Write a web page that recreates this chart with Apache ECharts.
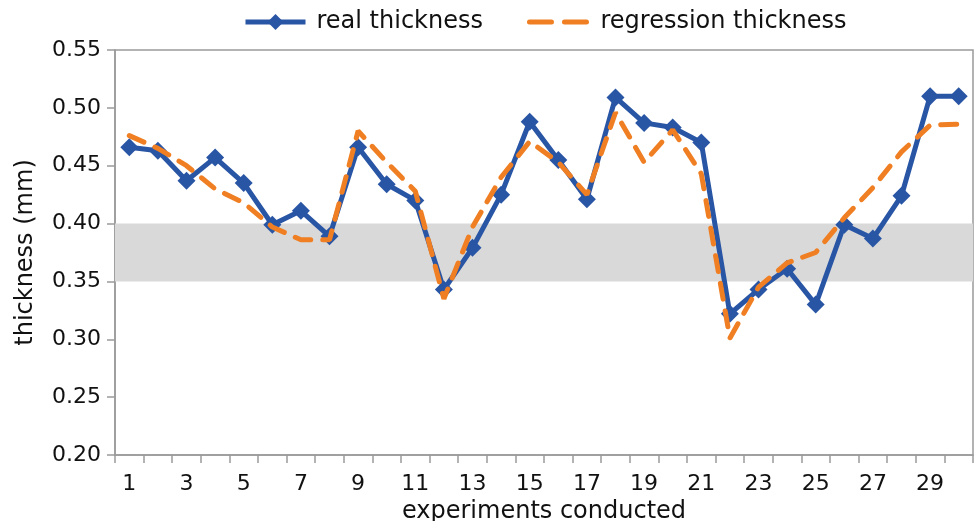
<!DOCTYPE html>
<html>
<head>
<meta charset="utf-8">
<script src="https://cdn.jsdelivr.net/npm/echarts@6/dist/echarts.min.js"></script>
<style>
  html, body { margin: 0; padding: 0; background: #fff; }
  #main { width: 974px; height: 521px; }
</style>
</head>
<body>
<div id="main"></div>
<script>
// experiment numbers 1..30
const experiments = ["1","2","3","4","5","6","7","8","9","10",
    "11","12","13","14","15","16","17","18","19","20",
    "21","22","23","24","25","26","27","28","29","30"]

// measured thickness (mm)
const realThickness = [
    0.466, 0.463, 0.437, 0.457, 0.435, 0.399, 0.411, 0.389, 0.466, 0.434,
    0.420, 0.343, 0.379, 0.425, 0.488, 0.455, 0.421, 0.509, 0.487, 0.483,
    0.470, 0.322, 0.343, 0.361, 0.330, 0.399, 0.387, 0.424, 0.510, 0.510
]

// regression model thickness (mm)
const regressionThickness = [
    0.476, 0.465, 0.450, 0.430, 0.418, 0.397, 0.386, 0.386, 0.480, 0.453,
    0.428, 0.335, 0.397, 0.440, 0.471, 0.453, 0.425, 0.496, 0.453, 0.481,
    0.443, 0.301, 0.345, 0.366, 0.375, 0.405, 0.431, 0.462, 0.485, 0.486
]

// tolerance band
const bandLow = 0.35
const bandHigh = 0.40

const axisGray = '#9a9a9a'
const font = 'DejaVu Sans'
const blue = '#2955a5'
const orange = '#ef7f22'

const option = {
    animation: false,
    textStyle: { fontFamily: font },
    legend: {
        top: 5,
        left: 238,
        itemWidth: 60,
        itemHeight: 20,
        itemGap: 44,
        textStyle: { fontSize: 24, color: '#111', fontFamily: font, padding: [0, 0, 0, 6] },
        data: [
            {
                name: 'real thickness',
                lineStyle: { width: 5 }
            },
            {
                name: 'regression thickness',
                itemStyle: { opacity: 0 },
                lineStyle: { type: [22, 13], width: 5, cap: 'round' }
            }
        ]
    },
    grid: {
        left: 115,
        right: 1,
        top: 50,
        bottom: 66,
        outerBoundsMode: 'none',
        show: true,
        borderColor: axisGray,
        borderWidth: 1.5
    },
    xAxis: {
        type: 'category',
        data: experiments,
        boundaryGap: true,
        name: 'experiments conducted',
        nameLocation: 'middle',
        nameGap: 39,
        nameTextStyle: { fontSize: 24, color: '#111', fontFamily: font },
        axisLine: { lineStyle: { color: axisGray, width: 1.5 } },
        axisTick: { show: true, interval: 0, length: 8, lineStyle: { color: axisGray, width: 1.5 } },
        axisLabel: { interval: 1, fontSize: 22, color: '#111', margin: 18, fontFamily: font },
        splitLine: { show: false }
    },
    yAxis: {
        type: 'value',
        min: 0.20,
        max: 0.55,
        interval: 0.05,
        name: 'thickness (mm)',
        nameLocation: 'middle',
        nameGap: 77,
        nameTextStyle: { fontSize: 24, color: '#111', fontFamily: font },
        axisLine: { show: true, lineStyle: { color: axisGray, width: 1.5 } },
        axisTick: { show: true, inside: false, length: 8, lineStyle: { color: axisGray, width: 1.5 } },
        axisLabel: {
            fontSize: 22, color: '#111', margin: 14, fontFamily: font,
            formatter: v => v.toFixed(2)
        },
        splitLine: { show: false }
    },
    series: [
        {
            name: 'real thickness',
            type: 'line',
            data: realThickness,
            symbol: 'diamond',
            symbolSize: 18,
            z: 3,
            itemStyle: { color: blue },
            lineStyle: { color: blue, width: 5 },
            markArea: {
                silent: true,
                itemStyle: { color: '#d9d9d9' },
                data: [[{ yAxis: bandLow }, { yAxis: bandHigh }]]
            }
        },
        {
            name: 'regression thickness',
            type: 'line',
            data: regressionThickness,
            showSymbol: false,
            z: 4,
            itemStyle: { color: orange },
            lineStyle: { color: orange, width: 5, type: [16, 12], cap: 'round' }
        }
    ]
}

const myChart = echarts.init(document.getElementById('main'))
myChart.setOption(option)
</script>
</body>
</html>
